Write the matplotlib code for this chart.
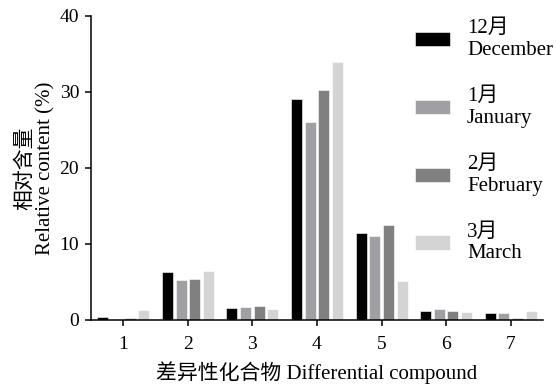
import numpy as np
import matplotlib.pyplot as plt

# данные
compounds = [1, 2, 3, 4, 5, 6, 7]
dec = [0.35, 6.3, 1.6, 29.1, 11.4, 1.2, 0.9]
jan = [0.05, 5.3, 1.7, 26.0, 11.0, 1.5, 0.95]
feb = [0.25, 5.35, 1.85, 30.2, 12.45, 1.2, 0.25]
mar = [1.3, 6.45, 1.5, 33.9, 5.1, 1.05, 1.2]

labels = ['12月\nDecember', '1月\nJanuary', '2月\nFebruary', '3月\nMarch']
colors = ['#000000', '#a0a0a4', '#808080', '#d4d4d4']

plt.rcParams['font.family'] = ['Liberation Serif', 'Noto Sans CJK SC']

fig = plt.figure(figsize=(5.56, 3.87), dpi=100)
ax = fig.add_axes([91/556, 67/387, 452/556, 304/387])

x = np.array(compounds)
width = 0.17
step = 0.212
for i, (vals, lab, col) in enumerate(zip([dec, jan, feb, mar], labels, colors)):
    ax.bar(x + (i - 1.5) * step, vals, width, color=col, label=lab,
           edgecolor='white', linewidth=0.4)

ax.set_xlim(0.5, 7.5)
ax.set_ylim(0, 40)
ax.set_xticks(compounds)
ax.set_yticks([0, 10, 20, 30, 40])

for s in ['top', 'right']:
    ax.spines[s].set_visible(False)
for s in ['left', 'bottom']:
    ax.spines[s].set_linewidth(1.1)
ax.tick_params(width=1.1, length=4.5, labelsize=14)
ax.tick_params(axis='x', pad=7)
ax.tick_params(axis='y', pad=4)

ax.set_xlabel('差异性化合物 Differential compound', fontsize=15, labelpad=6)
ax.set_ylabel('相对含量\nRelative content (%)', fontsize=15, labelpad=3,
              linespacing=1.05)

ax.legend(loc='upper left', bbox_to_anchor=(415/556, 1 - 19/387),
          bbox_transform=fig.transFigure, frameon=False, fontsize=15,
          handlelength=1.7, handleheight=0.7, handletextpad=0.8,
          labelspacing=1.3, borderpad=0, borderaxespad=0)

fig.savefig('out.png', dpi=100)
